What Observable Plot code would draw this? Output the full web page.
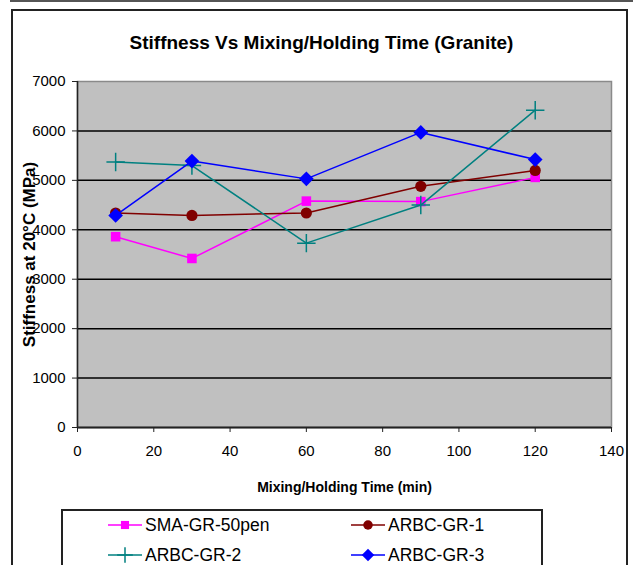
<!DOCTYPE html>
<html>
<head>
<meta charset="utf-8">
<script src="https://cdn.jsdelivr.net/npm/d3@7"></script>
<script src="https://cdn.jsdelivr.net/npm/@observablehq/plot@0.6"></script>
<style>
  html, body { margin: 0; padding: 0; background: #fff; }
  #wrap { position: relative; width: 633px; height: 565px; overflow: hidden; font-family: "Liberation Sans", Arial, sans-serif; }
  #topline { position: absolute; left: 10px; top: 0; width: 623px; height: 2px; background: #555; }
  #frame { position: absolute; left: 11px; top: 9px; width: 617px; height: 600px; border: 2px solid #222; box-sizing: border-box; }
  #title { position: absolute; left: 5px; top: 32px; width: 633px; text-align: center; font-weight: bold; font-size: 19px; color: #000; }
  #chart { position: absolute; left: 0; top: 0; }
  #legend { position: absolute; left: 61px; top: 509px; width: 482px; height: 80px; border: 2px solid #222; box-sizing: border-box; background: #fff; }
  .item { position: absolute; display: flex; align-items: center; font-size: 17.5px; color: #000; height: 20px; }
  .item svg { display: block; margin-right: 2px; }
</style>
</head>
<body>
<div id="wrap">
  <div id="topline"></div>
  <div id="frame"></div>
  <div id="chart"></div>
  <div id="title">Stiffness Vs Mixing/Holding Time (Granite)</div>
  <div id="legend"></div>
</div>
<script>
// Data
const times = [10, 30, 60, 90, 120];
const seriesNames = ["SMA-GR-50pen", "ARBC-GR-1", "ARBC-GR-2", "ARBC-GR-3"];
const smaGR50pen = [3860, 3420, 4580, 4570, 5060];
const arbcGR1 = [4340, 4290, 4340, 4880, 5200];
const arbcGR2 = [5370, 5300, 3730, 4500, 6420];
const arbcGR3 = [4290, 5390, 5030, 5970, 5420];
const xTicks = [0, 20, 40, 60, 80, 100, 120, 140];
const yTicks = [0, 1000, 2000, 3000, 4000, 5000, 6000, 7000];
const colors = ["#ff00ff", "#800000", "#008080", "#0000ff"];
const symbols = ["square", "circle", "plus", "diamond2"];
const symbolR = [5.4, 5.6, 6, 6.6];

const allValues = [smaGR50pen, arbcGR1, arbcGR2, arbcGR3];
const data = [];
allValues.forEach((vals, i) => {
  vals.forEach((v, j) => data.push({series: seriesNames[i], time: times[j], value: v}));
});

const marks = [
  Plot.frame({fill: "#c0c0c0", stroke: "#8a8a8a", strokeWidth: 1.5}),
  Plot.ruleY(yTicks.filter(d => d > 0 && d < 7000), {stroke: "#000", strokeWidth: 1.5}),
  Plot.ruleY([0], {stroke: "#222", strokeWidth: 2}),
  Plot.ruleX([0], {stroke: "#222", strokeWidth: 1.5}),
  Plot.axisY(yTicks, {tickSize: 5, tickPadding: 7, fontSize: 15, label: null, tickFormat: d => String(d), stroke: "#222"}),
  Plot.axisX(xTicks, {tickSize: 5, tickPadding: 13, fontSize: 15, label: null, tickFormat: d => String(d), stroke: "#222"}),
  Plot.text(["Mixing/Holding Time (min)"], {frameAnchor: "bottom", dy: 64, fontWeight: "bold", fontSize: 14, fill: "#000"}),
  Plot.text(["Stiffness at 20°C (MPa)"], {frameAnchor: "left", textAnchor: "middle", rotate: -90, dx: -48, fontWeight: "bold", fontSize: 17, fill: "#000"})
];
seriesNames.forEach((name, i) => {
  const d = data.filter(r => r.series === name);
  marks.push(Plot.line(d, {x: "time", y: "value", stroke: colors[i], strokeWidth: 1.5}));
  if (symbols[i] === "plus") {
    marks.push(Plot.dot(d, {x: "time", y: "value", symbol: "plus", r: symbolR[i], stroke: colors[i], strokeWidth: 1.5}));
  } else {
    marks.push(Plot.dot(d, {x: "time", y: "value", symbol: symbols[i], r: symbolR[i], fill: colors[i], stroke: "none"}));
  }
});

const chart = Plot.plot({
  width: 633,
  height: 565,
  marginLeft: 77,
  marginRight: 22,
  marginTop: 81,
  marginBottom: 138,
  style: {background: "transparent", fontFamily: "'Liberation Sans', Arial, sans-serif", color: "#000"},
  x: {domain: [0, 140]},
  y: {domain: [0, 7000]},
  marks
});
document.getElementById("chart").appendChild(chart);

// Legend
const legend = document.getElementById("legend");
const positions = [[44, 4], [287, 4], [44, 34], [287, 34]];
seriesNames.forEach((name, i) => {
  const item = document.createElement("div");
  item.className = "item";
  item.style.left = positions[i][0] + "px";
  item.style.top = positions[i][1] + "px";
  const svg = d3.create("svg").attr("width", 36).attr("height", 20);
  svg.append("line").attr("x1", 1).attr("x2", 35).attr("y1", 10).attr("y2", 10)
    .attr("stroke", colors[i]).attr("stroke-width", 1.5);
  const symMap = {square: d3.symbolSquare, circle: d3.symbolCircle, plus: d3.symbolPlus, diamond2: d3.symbolDiamond2};
  const r = symbolR[i] * 0.85;
  const path = svg.append("path").attr("transform", "translate(18,10)")
    .attr("d", d3.symbol(symMap[symbols[i]], r * r * Math.PI)());
  if (symbols[i] === "plus") path.attr("fill", "none").attr("stroke", colors[i]).attr("stroke-width", 1.5);
  else path.attr("fill", colors[i]);
  item.appendChild(svg.node());
  const span = document.createElement("span");
  span.textContent = name;
  item.appendChild(span);
  legend.appendChild(item);
});
</script>
</body>
</html>
